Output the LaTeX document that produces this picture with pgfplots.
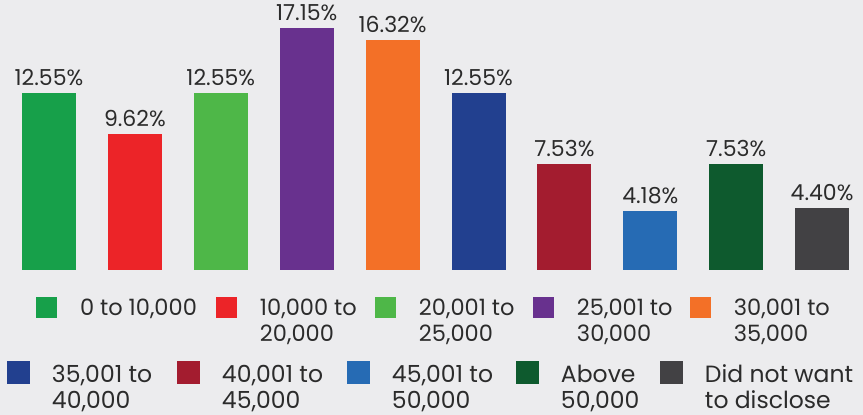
\documentclass[border=0pt]{standalone}
\usepackage{pgfplots}
\pgfplotsset{compat=1.18}
\usepackage{fontspec}
\setmainfont{Poppins}
\definecolor{bg}{HTML}{ECECEE}
\definecolor{txt}{HTML}{2B2B2B}
\definecolor{c1}{HTML}{17A04A}
\definecolor{c2}{HTML}{EC2428}
\definecolor{c3}{HTML}{4EB748}
\definecolor{c4}{HTML}{68318E}
\definecolor{c5}{HTML}{F37027}
\definecolor{c6}{HTML}{22408F}
\definecolor{c7}{HTML}{A31C2F}
\definecolor{c8}{HTML}{266BB4}
\definecolor{c9}{HTML}{0E5A2E}
\definecolor{c10}{HTML}{424144}
\newcommand{\two}[3]{\parbox[t]{#1}{\raggedright #2\\#3}}
\newcommand{\one}[2]{\parbox[t]{#1}{\raggedright #2}}
\pgfplotsset{
  bar/.style={ybar, bar width=54pt, bar shift=0pt, draw=none, forget plot, fill=#1},
  base/.style={at={(6.05pt,145pt)}, anchor=south west, scale only axis,
    width=859pt, height=260.85pt, xmin=-0.5, xmax=9.5, ymin=0, ymax=18.5,
    hide axis, clip=false, legend columns=5},
  legbase/.style={legend style={draw=none, fill=none, inner sep=0pt, outer sep=0pt,
    column sep=0pt, anchor=north west,
    text=txt, cells={anchor=base west, inner sep=0pt}}},
}
\begin{document}
\begin{tikzpicture}[x=1pt,y=1pt]
\fill[bg] (0,0) rectangle (863,415);
\path[use as bounding box] (0,0) rectangle (863,415);
\begin{axis}[base, legbase,
  /pgf/number format/assume math mode=true,
  nodes near coords={\pgfmathprintnumber[fixed,fixed zerofill,precision=2]{\pgfplotspointmeta}\%},
  nodes near coords style={font=\fontsize{22}{26}\selectfont, text=txt, inner sep=0pt, anchor=south, yshift=7pt},
  legend image code/.code={\fill[#1] (0pt,-2pt) rectangle (21pt,19pt); \path (42pt,0pt);},
  legend style={at={(0.03487,-0.1035)}, font=\fontsize{22.5}{26}\selectfont},
]
\addplot[bar=c1] coordinates {(0,12.55)};
\addplot[bar=c2] coordinates {(1,9.62)};
\addplot[bar=c3] coordinates {(2,12.55)};
\addplot[bar=c4] coordinates {(3,17.15)};
\addplot[bar=c5] coordinates {(4,16.32)};
\addplot[bar=c6] coordinates {(5,12.55)};
\addplot[bar=c7] coordinates {(6,7.53)};
\addplot[bar=c8] coordinates {(7,4.18)};
\addplot[bar=c9] coordinates {(8,7.53)};
\addplot[bar=c10] coordinates {(9,4.40)};
\addlegendimage{fill=c1, draw=none}
\addlegendentry{\one{134pt}{0 to 10,000}}
\addlegendimage{fill=c2, draw=none}
\addlegendentry{\two{113pt}{10,000 to}{20,000}}
\addlegendimage{fill=c3, draw=none}
\addlegendentry{\two{112pt}{20,001 to}{25,000}}
\addlegendimage{fill=c4, draw=none}
\addlegendentry{\two{111pt}{25,001 to}{30,000}}
\addlegendimage{fill=c5, draw=none}
\addlegendentry{\two{100pt}{30,001 to}{35,000}}
\end{axis}
\begin{axis}[base, legbase,
  legend image code/.code={\fill[#1] (0pt,-2pt) rectangle (23pt,21pt); \path (43pt,0pt);},
  legend style={at={(0.0011,-0.3489)}, font=\fontsize{23.5}{26}\selectfont},
]
\addlegendimage{fill=c6, draw=none}
\addlegendentry{\two{123pt}{35,001 to}{40,000}}
\addlegendimage{fill=c7, draw=none}
\addlegendentry{\two{123pt}{40,001 to}{45,000}}
\addlegendimage{fill=c8, draw=none}
\addlegendentry{\two{122pt}{45,001 to}{50,000}}
\addlegendimage{fill=c9, draw=none}
\addlegendentry{\two{97pt}{Above}{50,000}}
\addlegendimage{fill=c10, draw=none}
\addlegendentry{\two{150pt}{Did not want}{to disclose}}
\end{axis}
\end{tikzpicture}
\end{document}
